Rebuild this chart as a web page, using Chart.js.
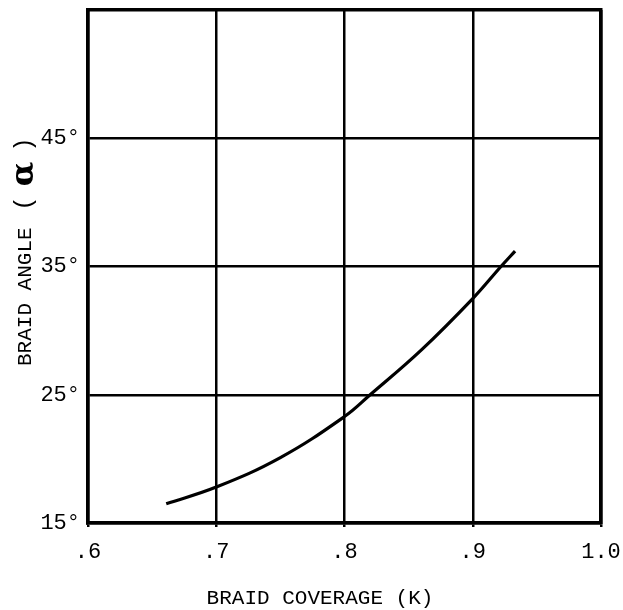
<!DOCTYPE html>
<html>
<head>
<meta charset="utf-8">
<script src="https://cdn.jsdelivr.net/npm/chart.js@4"></script>
<style>
  html, body { margin: 0; padding: 0; background: #fff; }
  #wrap { width: 623px; height: 610px; }
</style>
</head>
<body>
<div id="wrap"><canvas id="braidChart" width="623" height="610"></canvas></div>
<script>
// curve
const coverage = [0.661, 0.70, 0.75, 0.80, 0.82, 0.86, 0.90, 0.922, 0.933];
const angle    = [16.5, 17.8, 20.1, 23.3, 25.0, 28.5, 32.5, 35.0, 36.2];

const xTicks = [0.6, 0.7, 0.8, 0.9, 1.0];
const xTickLabels = ['.6', '.7', '.8', '.9', '1.0'];
const yTickLabels = { 15: '15°', 25: '25°', 35: '35°', 45: '45°' };

const xTitle = 'BRAID COVERAGE (K)';
const yTitleText = 'BRAID ANGLE ';

const typeFont = 'Liberation Mono, DejaVu Sans Mono, monospace';
const ink = '#000';

const points = coverage.map((k, i) => ({ x: k, y: angle[i] }));

// axis titles drawn by hand: the original sits them off-centre and uses a big bold alpha
const axisTitles = {
  id: 'axisTitles',
  afterDraw(chart) {
    const ctx = chart.ctx;
    ctx.save();
    ctx.fillStyle = ink;
    ctx.textBaseline = 'middle';

    ctx.font = `21px ${typeFont}`;
    ctx.textAlign = 'center';
    ctx.fillText(xTitle, 320, 598);

    ctx.textAlign = 'left';
    ctx.translate(25, 366);
    ctx.rotate(-Math.PI / 2);
    const parts = [
      { t: yTitleText, f: `21px ${typeFont}`, gap: 4 },
      { t: '(', f: `24px ${typeFont}`, gap: 10 },
      { t: 'α', f: `bold 32px DejaVu Serif, serif`, gap: 10 },
      { t: ')', f: `24px ${typeFont}`, gap: 0 }
    ];
    let x = 0;
    parts.forEach(p => {
      ctx.font = p.f;
      ctx.fillText(p.t, x, 0);
      x += ctx.measureText(p.t).width + p.gap;
    });
    ctx.restore();
  }
};

new Chart(document.getElementById('braidChart').getContext('2d'), {
  type: 'scatter',
  data: {
    datasets: [{
      data: points,
      showLine: true,
      borderColor: ink,
      borderWidth: 3.2,
      pointRadius: 0,
      tension: 0.4
    }]
  },
  options: {
    responsive: false,
    animation: false,
    layout: { padding: { top: 10, right: 22, left: 0, bottom: 0 } },
    plugins: { legend: { display: false }, tooltip: { enabled: false } },
    scales: {
      x: {
        type: 'linear',
        min: 0.6,
        max: 1.0,
        afterBuildTicks: (scale) => { scale.ticks = xTicks.map(v => ({ value: v })); },
        ticks: {
          color: ink,
          font: { family: typeFont, size: 22 },
          padding: 12,
          maxRotation: 0,
          callback: (v) => xTickLabels[xTicks.findIndex(t => Math.abs(t - v) < 1e-6)]
        },
        grid: { color: ink, lineWidth: 2.5, tickLength: 4 },
        border: { color: ink, width: 3.5 },
        title: { display: false },
        afterFit: (scale) => {
          scale.height = 87;
          scale.paddingLeft = 0;
          scale.paddingRight = 0;
        }
      },
      y: {
        type: 'linear',
        min: 15,
        max: 55,
        ticks: {
          stepSize: 10,
          color: ink,
          font: { family: typeFont, size: 22 },
          padding: 8,
          callback: (v) => yTickLabels[v] || null
        },
        grid: { color: ink, lineWidth: 2.5, tickLength: 0 },
        border: { color: ink, width: 3.5 },
        title: { display: false },
        afterFit: (scale) => {
          scale.width = 88;
          scale.paddingTop = 0;
          scale.paddingBottom = 0;
        }
      },
      x2: {
        type: 'linear', position: 'top', min: 0.6, max: 1.0,
        ticks: { display: false }, grid: { display: false },
        border: { color: ink, width: 3.5 },
        afterFit: (scale) => { scale.height = 0; scale.paddingLeft = 0; scale.paddingRight = 0; }
      },
      y2: {
        type: 'linear', position: 'right', min: 15, max: 55,
        ticks: { display: false }, grid: { display: false },
        border: { color: ink, width: 3.5 },
        afterFit: (scale) => { scale.width = 0; scale.paddingTop = 0; scale.paddingBottom = 0; }
      }
    }
  },
  plugins: [axisTitles]
});
</script>
</body>
</html>
